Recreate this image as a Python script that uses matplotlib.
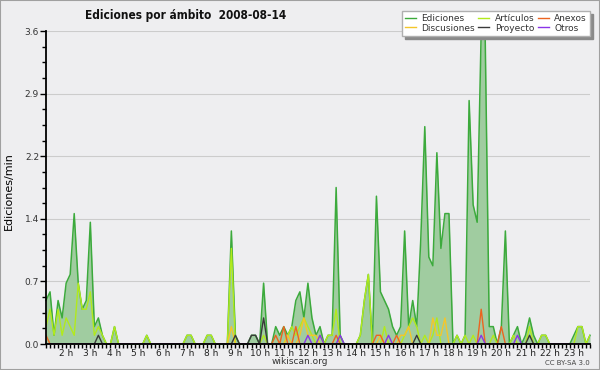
import numpy as np
import matplotlib
matplotlib.use("Agg")
import matplotlib.pyplot as plt
from matplotlib.lines import Line2D
from matplotlib.patches import Rectangle

# edits per minute, one value every 10 minutes starting at 1:10
start_hour = 1 + 10 / 60
ediciones = [
    0.5, 0.6, 0.1, 0.5, 0.3, 0.7, 0.8, 1.5, 0.7, 0.4, 0.5, 1.4,
    0.2, 0.3, 0.1, 0, 0, 0.2, 0, 0, 0, 0, 0, 0,
    0, 0.1, 0, 0, 0, 0, 0, 0, 0, 0, 0, 0.1,
    0.1, 0, 0, 0, 0.1, 0.1, 0, 0, 0, 0, 1.3, 0.1,
    0, 0, 0, 0.1, 0.1, 0, 0.7, 0, 0, 0.2, 0.1, 0.2,
    0.1, 0.2, 0.5, 0.6, 0.3, 0.7, 0.3, 0.1, 0.2, 0, 0.1, 0.1,
    1.8, 0.1, 0, 0, 0, 0, 0.1, 0.5, 0.8, 0, 1.7, 0.6,
    0.5, 0.4, 0.2, 0.1, 0.2, 1.3, 0.2, 0.5, 0.2, 1.2, 2.5, 1.0,
    0.9, 2.2, 1.1, 1.5, 1.5, 0, 0.1, 0, 0.1, 2.8, 1.6, 1.4,
    3.6, 3.5, 0.2, 0.2, 0, 0.2, 1.3, 0, 0.1, 0.2, 0, 0.1,
    0.3, 0.1, 0, 0.1, 0.1, 0, 0, 0, 0, 0, 0, 0.1,
    0.2, 0.2, 0, 0.1,
]
articulos = [
    0.2, 0.4, 0.1, 0.4, 0.1, 0.3, 0.2, 0.1, 0.7, 0.4, 0.4, 0.6,
    0.1, 0.2, 0.1, 0, 0, 0.2, 0, 0, 0, 0, 0, 0,
    0, 0.1, 0, 0, 0, 0, 0, 0, 0, 0, 0, 0.1,
    0.1, 0, 0, 0, 0.1, 0.1, 0, 0, 0, 0, 1.1, 0,
    0, 0, 0, 0, 0, 0, 0.1, 0, 0, 0, 0, 0,
    0.1, 0.2, 0.1, 0.2, 0.3, 0.2, 0.1, 0, 0.1, 0, 0.1, 0.1,
    0.4, 0, 0, 0, 0, 0, 0.1, 0.5, 0.8, 0, 0, 0,
    0.2, 0, 0, 0, 0, 0.1, 0.2, 0.3, 0.2, 0, 0.1, 0,
    0.1, 0.3, 0, 0, 0, 0, 0.1, 0, 0.1, 0, 0.1, 0,
    0, 0, 0, 0.1, 0, 0, 0, 0, 0.1, 0, 0, 0,
    0.2, 0, 0, 0.1, 0.1, 0, 0, 0, 0, 0, 0, 0,
    0.2, 0.2, 0, 0.1,
]
discusiones = [
    0, 0, 0, 0, 0, 0, 0, 0, 0, 0, 0, 0,
    0, 0, 0, 0, 0, 0, 0, 0, 0, 0, 0, 0,
    0, 0, 0, 0, 0, 0, 0, 0, 0, 0, 0, 0,
    0, 0, 0, 0, 0, 0, 0, 0, 0, 0, 0.2, 0,
    0, 0, 0, 0, 0, 0, 0, 0, 0, 0, 0, 0,
    0.1, 0, 0, 0.1, 0.3, 0.1, 0.1, 0.1, 0, 0, 0, 0,
    0, 0, 0, 0, 0, 0, 0, 0, 0, 0, 0, 0.1,
    0, 0, 0, 0, 0.1, 0.1, 0.2, 0, 0, 0, 0, 0,
    0.3, 0.1, 0.1, 0.3, 0, 0, 0, 0, 0, 0, 0, 0,
    0, 0, 0, 0, 0, 0, 0, 0, 0, 0, 0, 0,
    0, 0, 0, 0, 0, 0, 0, 0, 0, 0, 0, 0,
    0, 0, 0, 0,
]
anexos = [
    0.1, 0, 0, 0, 0, 0, 0, 0, 0, 0, 0, 0,
    0, 0, 0, 0, 0, 0, 0, 0, 0, 0, 0, 0,
    0, 0, 0, 0, 0, 0, 0, 0, 0, 0, 0, 0,
    0, 0, 0, 0, 0, 0, 0, 0, 0, 0, 0, 0,
    0, 0, 0, 0, 0, 0, 0, 0, 0, 0.1, 0, 0.2,
    0, 0, 0.2, 0, 0, 0, 0, 0, 0, 0, 0, 0,
    0.1, 0, 0, 0, 0, 0, 0, 0, 0, 0, 0.1, 0.1,
    0, 0, 0, 0.1, 0, 0, 0, 0, 0, 0, 0, 0,
    0, 0, 0, 0, 0, 0, 0, 0, 0, 0, 0, 0,
    0.4, 0, 0, 0, 0, 0.2, 0, 0, 0, 0, 0, 0,
    0, 0, 0, 0, 0, 0, 0, 0, 0, 0, 0, 0,
    0, 0, 0, 0,
]
proyecto = [
    0, 0, 0, 0, 0, 0, 0, 0, 0, 0, 0, 0,
    0, 0.1, 0, 0, 0, 0, 0, 0, 0, 0, 0, 0,
    0, 0, 0, 0, 0, 0, 0, 0, 0, 0, 0, 0,
    0, 0, 0, 0, 0, 0, 0, 0, 0, 0, 0, 0.1,
    0, 0, 0, 0.1, 0.1, 0, 0.3, 0, 0, 0, 0, 0,
    0, 0, 0, 0, 0, 0, 0, 0, 0, 0, 0, 0,
    0, 0, 0, 0, 0, 0, 0, 0, 0, 0, 0, 0,
    0, 0, 0, 0, 0, 0, 0, 0, 0.1, 0, 0, 0,
    0, 0, 0, 0, 0, 0, 0, 0, 0, 0, 0, 0,
    0, 0, 0, 0, 0, 0, 0, 0, 0, 0, 0, 0,
    0.1, 0, 0, 0, 0, 0, 0, 0, 0, 0, 0, 0,
    0, 0, 0, 0,
]
otros = [
    0, 0, 0, 0, 0, 0, 0, 0, 0, 0, 0, 0,
    0, 0, 0, 0, 0, 0, 0, 0, 0, 0, 0, 0,
    0, 0, 0, 0, 0, 0, 0, 0, 0, 0, 0, 0,
    0, 0, 0, 0, 0, 0, 0, 0, 0, 0, 0, 0,
    0, 0, 0, 0, 0, 0, 0, 0, 0, 0, 0, 0,
    0, 0, 0, 0, 0, 0.1, 0, 0, 0.1, 0, 0, 0,
    0, 0.1, 0, 0, 0, 0, 0, 0, 0, 0, 0, 0,
    0, 0.1, 0, 0, 0, 0, 0, 0, 0, 0, 0, 0,
    0, 0, 0, 0, 0, 0, 0, 0, 0, 0, 0, 0,
    0.1, 0, 0, 0, 0, 0, 0, 0, 0, 0.1, 0, 0,
    0, 0, 0, 0, 0, 0, 0, 0, 0, 0, 0, 0,
    0, 0, 0, 0,
]

title = "Ediciones por ámbito  2008-08-14"
bg = "#eeeef0"
fill_green = "#a0cca0"
line_green = "#3caa3c"
others = [
    ("Artículos", articulos, "#b2ea1c"),
    ("Discusiones", discusiones, "#f4c62a"),
    ("Proyecto", proyecto, "#3a3a3a"),
    ("Anexos", anexos, "#ec6420"),
    ("Otros", otros, "#8a34e8"),
]

t = start_hour + np.arange(len(ediciones)) / 6

fig = plt.figure(figsize=(6, 3.7), dpi=100, facecolor=bg)
ax = fig.add_axes([46 / 600, 26 / 370, 544 / 600, 313 / 370], facecolor=bg)
ax.set_axisbelow(True)

ax.fill_between(t, ediciones, 0, color=fill_green, lw=0, zorder=2)
ax.plot(t, ediciones, color=line_green, lw=1.1, zorder=3, clip_on=False)
for name, vals, col in others:
    ax.plot(t, vals, color=col, lw=1.0, zorder=3)

ax.set_xlim(t[0], t[-1])
ax.set_ylim(0, 3.6)

# axes styling
for s in ["top", "right"]:
    ax.spines[s].set_visible(False)
for s in ["left", "bottom"]:
    ax.spines[s].set_color("black")
    ax.spines[s].set_linewidth(1.3)
    ax.spines[s].set_zorder(5)

yt = np.arange(6) * 0.72
ax.set_yticks(yt)
ax.set_yticklabels([f"{v:.1f}" for v in yt])
ax.set_yticks(np.arange(21) * 0.18, minor=True)
ax.tick_params(axis="y", which="major", length=4, width=1, labelsize=6.5,
               labelcolor="#333333", pad=1)
ax.tick_params(axis="y", which="minor", length=3, width=1)
ax.grid(axis="y", which="major", color="#cccccc", lw=0.8)

xlabels = []
for v in t:
    if abs(v - round(v)) < 1e-6:
        xlabels.append(f"{int(round(v))} h")
    else:
        xlabels.append("")
ax.set_xticks(t)
ax.set_xticklabels(xlabels)
ax.tick_params(axis="x", length=3, width=1, labelsize=6.5,
               labelcolor="#222222", pad=0.5)

ax.set_ylabel("Ediciones/min", fontsize=8, color="black")
ax.yaxis.set_label_coords(-32 / 544, 0.49)

fig.text(85 / 600, 1 - 15 / 370, title, fontsize=8.5, fontweight="bold",
         fontstretch="condensed", ha="left", va="center", color="#111111")
fig.text(300 / 600, 1 - 361 / 370, "wikiscan.org", fontsize=6.5,
         ha="center", va="center", color="#333333")
fig.text(590 / 600, 1 - 363 / 370, "CC BY-SA 3.0", fontsize=5,
         ha="right", va="center", color="#444444")

# legend: matplotlib fills columns first
handles = [Line2D([], [], color=line_green, lw=1.0)]
labels = ["Ediciones"]
for name, vals, col in others:
    handles.append(Line2D([], [], color=col, lw=1.0))
    labels.append(name)
order = [0, 2, 1, 3, 4, 5]
handles = [handles[i] for i in order]
labels = [labels[i] for i in order]
leg = ax.legend(handles, labels, ncol=3, loc="upper right",
                bbox_to_anchor=(590 / 600, 1 - 11 / 370),
                bbox_transform=fig.transFigure, fontsize=6.5,
                frameon=True, fancybox=False, edgecolor="#b0b0b0",
                facecolor="white", framealpha=1, handlelength=1.2,
                handletextpad=0.6, columnspacing=0.4, labelspacing=0.05,
                borderpad=0.35, borderaxespad=0,
                shadow={"color": "#8a8a8a", "alpha": 1})
for txt in leg.get_texts():
    txt.set_color("#333333")
leg.set_zorder(10)

fig.patches.append(Rectangle((0, 0), 1, 1, transform=fig.transFigure,
                             fill=False, edgecolor="#a0a0a0", lw=1.5))

fig.savefig("out.png", dpi=100, facecolor=bg)
